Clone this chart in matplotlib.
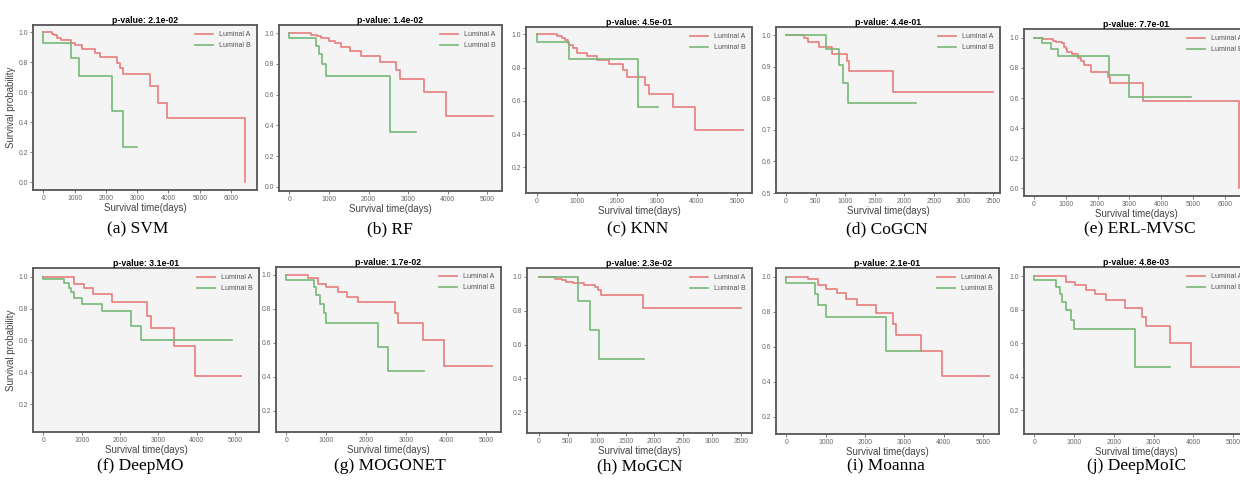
import matplotlib
matplotlib.use("Agg")
import matplotlib.pyplot as plt

plt.rcParams['font.family'] = ['Liberation Sans', 'DejaVu Sans']

# Kaplan-Meier step data (time in days, survival probability) for each method
svm_a_t = [0, 270, 330, 450, 560, 900, 1000, 1250, 1650, 1800, 2350, 2450, 2550, 3400, 3650, 3950, 6450]
svm_a_s = [1.0, 0.99, 0.98, 0.96, 0.947, 0.93, 0.915, 0.89, 0.86, 0.835, 0.795, 0.76, 0.72, 0.64, 0.53, 0.426, 0.0]
svm_b_t = [0, 0, 880, 1130, 2200, 2550, 3000]
svm_b_s = [1.0, 0.93, 0.825, 0.707, 0.472, 0.236, 0.236]

rf_a_t = [0, 540, 700, 800, 1000, 1150, 1300, 1520, 1800, 2280, 2700, 2800, 3400, 3950, 5150]
rf_a_s = [1.0, 0.99, 0.98, 0.97, 0.95, 0.935, 0.911, 0.883, 0.853, 0.81, 0.76, 0.703, 0.615, 0.461, 0.461]
rf_b_t = [0, 0, 680, 740, 820, 920, 2540, 3200]
rf_b_s = [1.0, 0.97, 0.913, 0.864, 0.797, 0.72, 0.36, 0.36]

knn_a_t = [0, 520, 640, 700, 780, 820, 900, 1000, 1250, 1500, 1800, 2150, 2250, 2700, 2800, 3400, 3950, 5150]
knn_a_s = [1.0, 0.99, 0.98, 0.965, 0.95, 0.936, 0.92, 0.89, 0.87, 0.846, 0.82, 0.785, 0.741, 0.695, 0.643, 0.565, 0.425, 0.425]
knn_b_t = [0, 0, 800, 2540, 3030]
knn_b_s = [1.0, 0.956, 0.85, 0.565, 0.565]

cogcn_a_t = [0, 300, 370, 560, 780, 1030, 1070, 1800, 3500]
cogcn_a_s = [1.0, 0.99, 0.979, 0.963, 0.941, 0.917, 0.888, 0.82, 0.82]
cogcn_b_t = [0, 680, 900, 970, 1050, 2190]
cogcn_b_s = [1.0, 0.956, 0.905, 0.848, 0.786, 0.786]

erl_a_t = [0, 300, 600, 700, 880, 950, 1000, 1050, 1200, 1400, 1480, 1580, 1780, 2320, 2400, 3430, 6450]
erl_a_s = [1.0, 0.99, 0.98, 0.97, 0.962, 0.94, 0.923, 0.905, 0.889, 0.863, 0.845, 0.818, 0.774, 0.739, 0.70, 0.58, 0.0]
erl_b_t = [0, 250, 550, 750, 2350, 2970, 4920]
erl_b_s = [1.0, 0.967, 0.927, 0.876, 0.754, 0.604, 0.604]

deepmo_a_t = [0, 800, 1050, 1300, 1800, 2700, 2800, 3420, 3950, 5150]
deepmo_a_s = [1.0, 0.954, 0.931, 0.889, 0.843, 0.756, 0.676, 0.565, 0.378, 0.378]
deepmo_b_t = [0, 0, 540, 670, 720, 800, 1000, 1520, 2280, 2540, 4920]
deepmo_b_s = [1.0, 0.983, 0.958, 0.93, 0.902, 0.864, 0.827, 0.783, 0.693, 0.605, 0.605]

mogonet_a_t = [0, 540, 800, 1000, 1280, 1520, 1800, 2720, 2800, 3420, 3950, 5150]
mogonet_a_s = [1.0, 0.984, 0.949, 0.929, 0.902, 0.873, 0.839, 0.778, 0.72, 0.618, 0.465, 0.465]
mogonet_b_t = [0, 0, 680, 740, 830, 930, 1000, 2280, 2540, 3430]
mogonet_b_s = [1.0, 0.971, 0.929, 0.882, 0.831, 0.776, 0.72, 0.575, 0.433, 0.433]

mogcn_a_t = [0, 290, 400, 480, 600, 780, 970, 1030, 1080, 1800, 3500]
mogcn_a_s = [1.0, 0.99, 0.98, 0.972, 0.965, 0.955, 0.939, 0.921, 0.895, 0.814, 0.814]
mogcn_b_t = [0, 680, 890, 1050, 1820]
mogcn_b_s = [1.0, 0.857, 0.686, 0.516, 0.516]

moanna_a_t = [0, 540, 800, 1000, 1280, 1520, 1800, 2280, 2700, 2800, 3420, 3950, 5150]
moanna_a_s = [1.0, 0.985, 0.95, 0.93, 0.905, 0.874, 0.84, 0.792, 0.73, 0.669, 0.575, 0.43, 0.43]
moanna_b_t = [0, 0, 720, 800, 1000, 2540, 3420]
moanna_b_s = [1.0, 0.962, 0.903, 0.84, 0.771, 0.578, 0.578]

deepmoic_a_t = [0, 800, 1020, 1300, 1520, 1800, 2280, 2720, 2800, 3420, 3950, 5150]
deepmoic_a_s = [1.0, 0.966, 0.946, 0.916, 0.89, 0.855, 0.811, 0.757, 0.703, 0.603, 0.455, 0.455]
deepmoic_b_t = [0, 0, 540, 650, 700, 800, 920, 1000, 2540, 3420]
deepmoic_b_s = [1.0, 0.974, 0.936, 0.894, 0.847, 0.797, 0.737, 0.682, 0.455, 0.455]

captions = ['(a) SVM', '(b) RF', '(c) KNN', '(d) CoGCN', '(e) ERL-MVSC',
            '(f) DeepMO', '(g) MOGONET', '(h) MoGCN', '(i) Moanna', '(j) DeepMoIC']
pvalues = ['2.1e-02', '1.4e-02', '4.5e-01', '4.4e-01', '7.7e-01',
           '3.1e-01', '1.7e-02', '2.3e-02', '2.1e-01', '4.8e-03']
curves = [
    (svm_a_t, svm_a_s, svm_b_t, svm_b_s),
    (rf_a_t, rf_a_s, rf_b_t, rf_b_s),
    (knn_a_t, knn_a_s, knn_b_t, knn_b_s),
    (cogcn_a_t, cogcn_a_s, cogcn_b_t, cogcn_b_s),
    (erl_a_t, erl_a_s, erl_b_t, erl_b_s),
    (deepmo_a_t, deepmo_a_s, deepmo_b_t, deepmo_b_s),
    (mogonet_a_t, mogonet_a_s, mogonet_b_t, mogonet_b_s),
    (mogcn_a_t, mogcn_a_s, mogcn_b_t, mogcn_b_s),
    (moanna_a_t, moanna_a_s, moanna_b_t, moanna_b_s),
    (deepmoic_a_t, deepmoic_a_s, deepmoic_b_t, deepmoic_b_s),
]

# axes boxes in pixels: left, top, right, bottom
boxes = [(33, 25, 257, 190), (279, 25, 502, 191), (526, 27, 752, 193),
         (776, 27, 1000, 193), (1024, 29, 1249, 196),
         (33, 268, 259, 432), (276, 267, 501, 432), (527, 268, 752, 433),
         (776, 268, 999, 434), (1024, 267, 1249, 434)]
xlims = [(-330, 6830), (-260, 5370), (-265, 5380), (-170, 3615), (-310, 6750),
         (-270, 5630), (-258, 5367), (-201, 3684), (-262, 5405), (-260, 5400)]
ylims = [(-0.051, 1.047), (-0.026, 1.052), (0.045, 1.044), (0.5, 1.026), (-0.05, 1.058),
         (0.027, 1.054), (0.076, 1.047), (0.076, 1.053), (0.101, 1.05), (0.057, 1.054)]
xstep = [1000, 1000, 1000, 500, 1000, 1000, 1000, 500, 1000, 1000]
xmax = [6000, 5000, 5000, 3500, 6000, 5000, 5000, 3500, 5000, 5000]
yticks_all = [[0.0, 0.2, 0.4, 0.6, 0.8, 1.0], [0.0, 0.2, 0.4, 0.6, 0.8, 1.0],
              [0.2, 0.4, 0.6, 0.8, 1.0], [0.5, 0.6, 0.7, 0.8, 0.9, 1.0],
              [0.0, 0.2, 0.4, 0.6, 0.8, 1.0],
              [0.2, 0.4, 0.6, 0.8, 1.0], [0.2, 0.4, 0.6, 0.8, 1.0],
              [0.2, 0.4, 0.6, 0.8, 1.0], [0.2, 0.4, 0.6, 0.8, 1.0],
              [0.2, 0.4, 0.6, 0.8, 1.0]]
caption_x = [138, 390, 638, 887, 1140, 140, 390, 640, 886, 1137]
caption_y = [229, 229, 229, 229, 229, 466, 466, 466, 466, 466]

W, H = 1240, 480
red = '#e77c7c'
green = '#76b976'

fig = plt.figure(figsize=(W / 100, H / 100), dpi=100)

for i in range(10):
    l, t, r, b = boxes[i]
    ax = fig.add_axes([l / W, 1 - b / H, (r - l) / W, (b - t) / H])
    ax.set_facecolor('#f4f4f4')
    at, a_s, bt, b_s = curves[i]
    ax.step(at, a_s, where='post', color=red, lw=1.2, label='Luminal A')
    ax.step(bt, b_s, where='post', color=green, lw=1.2, label='Luminal B')
    ax.set_xlim(*xlims[i])
    ax.set_ylim(*ylims[i])
    ax.set_xticks(list(range(0, xmax[i] + 1, xstep[i])))
    ax.set_yticks(yticks_all[i])
    ax.set_yticklabels(['%.1f' % v for v in yticks_all[i]])
    ax.tick_params(labelsize=4.9, colors='#666666', length=2, width=0.6, pad=1.5)
    for sp in ax.spines.values():
        sp.set_color('#555555')
        sp.set_linewidth(1.3)
    ax.set_title('p-value: ' + pvalues[i], fontsize=6.3, fontweight='bold', pad=1.5)
    ax.set_xlabel('Survival time(days)', fontsize=7, color='#444444', labelpad=0.5)
    if i in (0, 5):
        ax.set_ylabel('Survival probability', fontsize=7, color='#444444', labelpad=2)
    ax.legend(loc='upper right', fontsize=5.1, frameon=False, handlelength=2.6,
              handletextpad=0.8, labelspacing=0.55, borderaxespad=0.5,
              labelcolor='#555555')
    fig.text(caption_x[i] / W, 1 - caption_y[i] / H, captions[i], ha='center', va='center',
             fontsize=12.5, family=['Liberation Serif', 'DejaVu Serif'])

fig.savefig('out.png', dpi=100)
